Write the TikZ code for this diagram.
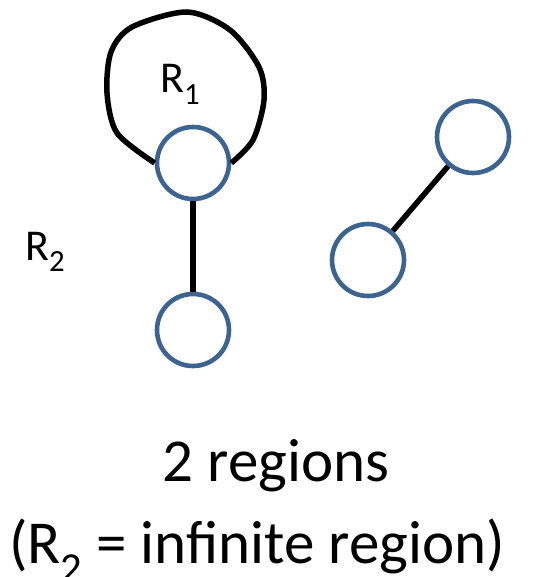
\documentclass[tikz,border=0pt]{standalone}
\usepackage{fontspec}
\setmainfont{Carlito}
\usepackage{xcolor}
\usepackage{tikz}
\usetikzlibrary{positioning}

\definecolor{vertexblue}{RGB}{61,99,145}

\begin{document}
\begin{tikzpicture}[
    x=1pt, y=-1pt,
    vertex/.style={draw=vertexblue, circle, line width=4.6pt, minimum size=72pt, inner sep=0pt, fill=white},
    edge/.style={draw=black, line width=5.5pt},
    regionlabel/.style={font=\fontsize{44}{50}\selectfont, inner sep=0pt, anchor=base west},
    captiontext/.style={font=\fontsize{61}{72}\selectfont, inner sep=0pt, anchor=base}
]
\useasboundingbox (0,0) rectangle (537,577);

% Left component with the loop
\node[vertex] (top) at (193,163) {};
\node[vertex] (bottom) at (193,330) {};
\draw[edge] (top) -- (bottom);
\draw[edge, line join=round] plot[smooth] coordinates {(top.west) (117,133) (107,93) (111,52) (132,27) (187,12) (230,30) (259,67) (264,100) (253,140) (top.east)};

% Right component
\node[vertex] (lowr) at (368,260) {};
\node[vertex] (highr) at (473,137) {};
\draw[edge] (lowr) -- (highr);

% Region names
\node[regionlabel] (r1) at (160,93) {R\textsubscript{1}};
\node[regionlabel] (r2) at (25,260) {R\textsubscript{2}};

% Caption
\node[captiontext] (cap1) at (276,481) {2 regions};
\node[captiontext] (cap2) at (257,563) {(R\textsubscript{2} = infinite region)};
\end{tikzpicture}
\end{document}
